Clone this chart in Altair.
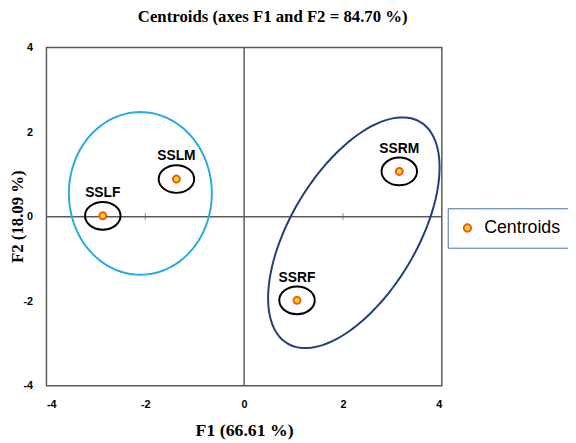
import altair as alt
import pandas as pd
import numpy as np

# ---- data ----
groups = ["SSLF", "SSLM", "SSRF", "SSRM"]
f1 = [-2.86, -1.37, 1.07, 3.14]
f2 = [0.02, 0.89, -1.98, 1.07]

# ellipses drawn round the groups (centre, semi-axes in pixels, tilt in degrees)
ell_names = ["left", "right"]
ell_cx = [-2.10, 2.22]
ell_cy = [0.55, -0.38]
ell_a_px = [72.5, 131.0]
ell_b_px = [82.5, 64.0]
ell_phi = [0.0, 59.0]
ell_colors = ["#2AA8E0", "#1F3F7A"]

W, H = 401, 343
PX_X = W / 8.0
PX_Y = H / 8.0

pts = pd.DataFrame({"name": groups, "F1": f1, "F2": f2, "kind": "Centroids"})

rows = []
for n, cx, cy, a, b, phi in zip(ell_names, ell_cx, ell_cy, ell_a_px, ell_b_px, ell_phi):
    p = np.deg2rad(phi)
    for i, t in enumerate(np.linspace(0, 2 * np.pi, 121)):
        dx = a * np.cos(p) * np.cos(t) - b * np.sin(p) * np.sin(t)
        dy = a * np.sin(p) * np.cos(t) + b * np.cos(p) * np.sin(t)
        rows.append({"ell": n, "i": i, "F1": cx + dx / PX_X, "F2": cy + dy / PX_Y})
ell = pd.DataFrame(rows)

xs = alt.Scale(domain=[-4, 4], nice=False, zero=False)
ys = alt.Scale(domain=[-4, 4], nice=False, zero=False)

x_axis = alt.Axis(values=[-4, -2, 0, 2, 4], title="F1 (66.61 %)", labelPadding=13,
                  titlePadding=12, labelExpr="'' + datum.value")
y_axis = alt.Axis(values=[-4, -2, 0, 2, 4], title="F2 (18.09 %)", labelPadding=14,
                  labelExpr="'' + datum.value",
                  titleX=-20, titleY=171, titleAngle=-90, titleAlign="center",
                  titleBaseline="bottom", titleFontSize=17)

base = alt.Chart(pts)

zero_v = alt.Chart(pd.DataFrame({"v": [0]})).mark_rule(color="#5a5a5a", strokeWidth=1.5).encode(
    x=alt.X("v:Q", scale=xs, axis=x_axis))
zero_h = alt.Chart(pd.DataFrame({"v": [0]})).mark_rule(color="#5a5a5a", strokeWidth=1.5).encode(
    y=alt.Y("v:Q", scale=ys, axis=y_axis))
ticks = alt.Chart(pd.DataFrame({"x": [-2, 2], "y": [0, 0]})).mark_tick(
    orient="vertical", size=7, thickness=1, color="#555555").encode(
    x=alt.X("x:Q", scale=xs), y=alt.Y("y:Q", scale=ys))

ellipses = alt.Chart(ell).mark_line(strokeWidth=2).encode(
    x=alt.X("F1:Q", scale=xs),
    y=alt.Y("F2:Q", scale=ys),
    order="i:Q",
    color=alt.Color("ell:N", scale=alt.Scale(domain=ell_names, range=ell_colors), legend=None),
)

small = base.mark_point(
    shape="M -1 0 A 1 0.78 0 1 1 1 0 A 1 0.78 0 1 1 -1 0 Z",
    size=1296, filled=False, stroke="black", strokeWidth=2, opacity=1,
).encode(x=alt.X("F1:Q", scale=xs), y=alt.Y("F2:Q", scale=ys))

dots = base.mark_point(shape="circle", size=50, filled=True, stroke="#F4502A",
                       strokeWidth=2, opacity=1).encode(
    x=alt.X("F1:Q", scale=xs),
    y=alt.Y("F2:Q", scale=ys),
    fill=alt.Fill("kind:N", scale=alt.Scale(domain=["Centroids"], range=["#FFE000"]),
                  legend=alt.Legend(title=None, orient="none", legendX=407, legendY=163,
                                    padding=11, strokeColor="#41719C", fillColor="white",
                                    labelFont="Liberation Sans", labelFontSize=18,
                                    labelColor="black", labelOffset=8,
                                    labelExpr="datum.label + '          '",
                                    symbolType="circle", symbolSize=55,
                                    symbolStrokeColor="#F4502A", symbolStrokeWidth=2,
                                    symbolFillColor="#FFE000", symbolOpacity=1)),
)

labels = base.mark_text(dy=-23, font="Liberation Sans", fontSize=14, fontWeight="bold",
                        color="black").encode(
    x=alt.X("F1:Q", scale=xs), y=alt.Y("F2:Q", scale=ys), text="name:N")

chart = alt.layer(zero_v, zero_h, ticks, ellipses, small, dots, labels).properties(
    width=W, height=H,
    title=alt.TitleParams("Centroids (axes F1 and F2 = 84.70 %)", font="Liberation Serif",
                          fontSize=17, fontWeight="bold", color="black", anchor="middle",
                          dx=29, offset=16),
    autosize=alt.AutoSizeParams(type="none"),
    padding={"left": 39, "top": 37, "right": 128, "bottom": 60},
).configure_view(stroke="#5a5a5a", strokeWidth=1.5).configure_axis(
    grid=False, ticks=False, domain=False,
    labelFont="Liberation Sans", labelFontSize=11, labelFontWeight="bold", labelColor="black",
    titleFont="Liberation Serif", titleFontSize=18, titleFontWeight="bold", titleColor="black",
)

chart.save("out.html", embed_options={"renderer": "svg", "actions": False})
